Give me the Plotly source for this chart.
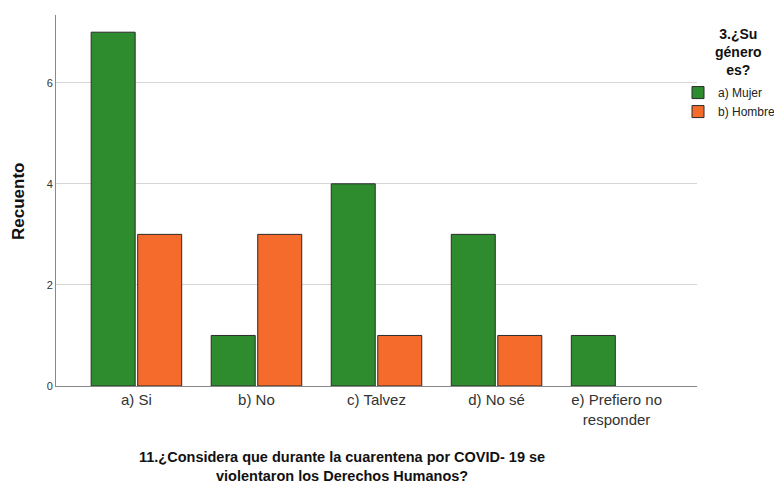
import plotly.graph_objects as go

categories = ["a) Si", "b) No", "c) Talvez", "d) No sé", "e) Prefiero no<br>responder"]
mujer = [7, 1, 4, 3, 1]
hombre = [3, 3, 1, 1, 0]
series_names = ["a) Mujer", "b) Hombre"]
colors = ["#2e8b2e", "#f46b2c"]
legend_title_lines = ["3.¿Su", "género", "es?"]
x_title_lines = ["11.¿Considera que durante la cuarentena por COVID- 19 se",
                 "violentaron los Derechos Humanos?"]
y_title = "Recuento"

# page has an 8px body margin; plot area in page pixels: x 56..697, y 15..386
PLOT_BOTTOM = 386
PLOT_H = 371
PLOT_L = 56
PLOT_W = 641

fig = go.Figure()
for name, vals, col in zip(series_names, [mujer, hombre], colors):
    fig.add_trace(go.Bar(
        x=categories, y=vals, name=name,
        marker=dict(color=col,
                    line=dict(color="#2b2b2b", width=[1 if v > 0 else 0 for v in vals])),
    ))

fig.update_layout(
    width=774, height=475,
    margin=dict(l=48, r=85, t=7, b=97, autoexpand=False),
    paper_bgcolor="white", plot_bgcolor="white",
    barmode="group", bargap=0.225, bargroupgap=0.054,
    font=dict(family="Liberation Sans, Arial, sans-serif", color="#222"),
    showlegend=True,
    legend=dict(
        x=(678 - 697) / PLOT_W + 1.0, y=0.830, xanchor="left", yanchor="top",
        font=dict(size=12, color="#222"),
        itemwidth=30, tracegroupgap=0, bgcolor="rgba(0,0,0,0)",
    ),
    xaxis=dict(
        type="category", range=[-0.67, 4.67],
        showline=True, linecolor="#888", linewidth=1,
        showgrid=False, ticks="",
        tickfont=dict(size=15, color="#333"),
    ),
    yaxis=dict(
        range=[0, 7.34], tickvals=[0, 2, 4, 6],
        showline=True, linecolor="#888", linewidth=1,
        showgrid=True, gridcolor="#d6d6d6", gridwidth=1,
        zeroline=False, ticks="",
        tickfont=dict(size=11, color="#333"),
    ),
)

# legend title (centered block)
fig.add_annotation(
    text="<b>" + "<br>".join(legend_title_lines) + "</b>",
    xref="paper", yref="paper", x=(738 - PLOT_L) / PLOT_W, y=(PLOT_BOTTOM - 24) / PLOT_H,
    xanchor="center", yanchor="top",
    showarrow=False, align="center", font=dict(size=14, color="#111"),
)
# x-axis title lines
for line, ypix in zip(x_title_lines, [457, 476]):
    fig.add_annotation(
        text="<b>" + line + "</b>",
        xref="paper", yref="paper", x=(342 - PLOT_L) / PLOT_W, y=(PLOT_BOTTOM - ypix) / PLOT_H,
        xanchor="center", yanchor="middle", showarrow=False,
        font=dict(size=14.5, color="#111"),
    )
# y-axis title
fig.add_annotation(
    text="<b>" + y_title + "</b>", textangle=-90,
    xref="paper", yref="paper", x=(18 - PLOT_L) / PLOT_W, y=(PLOT_BOTTOM - 202) / PLOT_H,
    xanchor="center", yanchor="middle", showarrow=False,
    font=dict(size=17, color="#111"),
)

fig.write_html("out.html")
